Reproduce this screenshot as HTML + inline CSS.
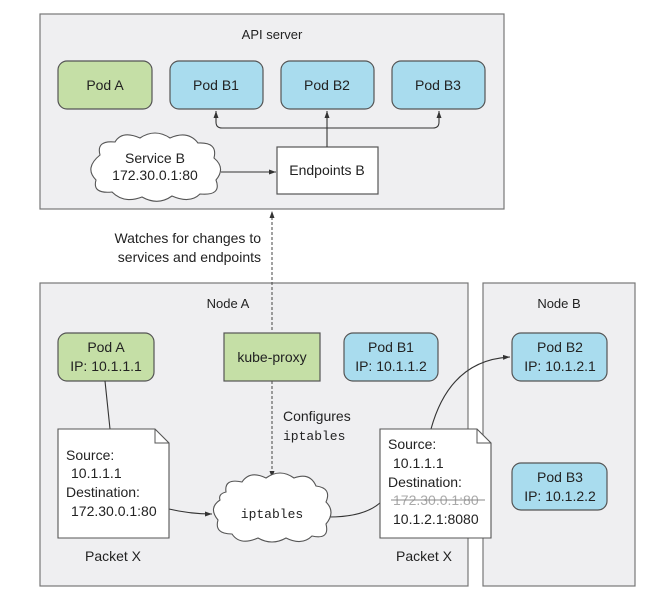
<!DOCTYPE html>
<html><head><style>
html,body{margin:0;padding:0;background:#fff;}
svg{display:block;font-family:"Liberation Sans",sans-serif;}
</style></head><body>
<svg width="659" height="604" viewBox="0 0 659 604" xmlns="http://www.w3.org/2000/svg">
<defs>
<marker id="ar" markerWidth="8" markerHeight="8" refX="7" refY="4" orient="auto" markerUnits="userSpaceOnUse">
<path d="M0,1.5 L7,4 L0,6.5 Z" fill="#333"/></marker>
</defs>
<g stroke="#777" stroke-width="1.2" fill="#efeff1">
<rect x="40" y="14" width="464" height="195"/>
<rect x="40" y="283" width="428" height="303"/>
<rect x="483" y="283" width="152" height="303"/>
</g>
<g font-size="13" fill="#222" text-anchor="middle">
<text x="272" y="39">API server</text>
<text x="228" y="308">Node A</text>
<text x="559" y="308">Node B</text>
</g>
<g stroke="#555" stroke-width="1.2">
<rect x="58" y="61" width="94" height="48" rx="9" fill="#c5dfa6"/>
<rect x="170" y="61" width="93" height="48" rx="9" fill="#a9dcee"/>
<rect x="281" y="61" width="93" height="48" rx="9" fill="#a9dcee"/>
<rect x="392" y="61" width="93" height="48" rx="9" fill="#a9dcee"/>
<rect x="277" y="147" width="101" height="47" fill="#fff"/>
</g>
<g font-size="14" fill="#222" text-anchor="middle">
<text x="105" y="90">Pod A</text>
<text x="216" y="90">Pod B1</text>
<text x="327" y="90">Pod B2</text>
<text x="438" y="90">Pod B3</text>
<text x="327" y="175">Endpoints B</text>
</g>
<g stroke="#333" stroke-width="1.1" fill="none">
<path d="M327,147 V111" marker-end="url(#ar)"/>
<path d="M222,128 H433 Q439,128 439,122 V111" marker-end="url(#ar)"/>
<path d="M222,128 Q216,128 216,122 V111" marker-end="url(#ar)"/>
<path d="M221,172 H276" marker-end="url(#ar)"/>
</g>
<path d="M100,155 Q96,140 115,142 Q122,130 140,138 Q155,128 170,138 Q188,130 198,143 Q218,142 214,158 Q226,168 216,180 Q222,196 200,194 Q190,204 172,196 Q158,206 142,197 Q124,204 112,192 Q92,194 96,180 Q84,168 100,155 Z" fill="#fff" stroke="#555" stroke-width="1.1"/>
<g font-size="14" fill="#222" text-anchor="middle">
<text x="155" y="163">Service B</text>
<text x="155" y="180">172.30.0.1:80</text>
</g>
<path d="M272,330 V211" stroke="#444" stroke-width="1" stroke-dasharray="3,2" fill="none" marker-end="url(#ar)"/>
<path d="M272,381 V478" stroke="#444" stroke-width="1" stroke-dasharray="3,2" fill="none" marker-end="url(#ar)"/>
<g font-size="14" fill="#222" text-anchor="end">
<text x="261" y="243">Watches for changes to</text>
<text x="261" y="262">services and endpoints</text>
</g>
<g stroke="#555" stroke-width="1.2">
<rect x="58" y="333" width="96" height="48" rx="9" fill="#c5dfa6"/>
<rect x="224" y="333" width="96" height="48" fill="#c5dfa6"/>
<rect x="344" y="333" width="94" height="48" rx="9" fill="#a9dcee"/>
<rect x="512" y="333" width="95" height="48" rx="9" fill="#a9dcee"/>
<rect x="512" y="463" width="95" height="47" rx="9" fill="#a9dcee"/>
</g>
<g font-size="14" fill="#222" text-anchor="middle">
<text x="106" y="352">Pod A</text><text x="106" y="371">IP: 10.1.1.1</text>
<text x="272" y="362">kube-proxy</text>
<text x="391" y="352">Pod B1</text><text x="391" y="371">IP: 10.1.1.2</text>
<text x="560" y="352">Pod B2</text><text x="560" y="371">IP: 10.1.2.1</text>
<text x="560" y="482">Pod B3</text><text x="560" y="501">IP: 10.1.2.2</text>
</g>
<text x="283" y="421" font-size="14" fill="#222">Configures</text>
<text x="283" y="440" font-size="13" fill="#222" font-family="Liberation Mono,monospace">iptables</text>
<path d="M105,381 L110,429" stroke="#333" stroke-width="1.1" fill="none"/>
<path d="M169,509 Q190,514 212,514" stroke="#333" stroke-width="1.1" fill="none" marker-end="url(#ar)"/>
<path d="M329,517 Q365,517 381,502" stroke="#333" stroke-width="1.1" fill="none"/>
<path d="M431,429 Q450,360 510,357" stroke="#333" stroke-width="1.1" fill="none" marker-end="url(#ar)"/>
<path d="M58,429 H155 L169,443 V538 H58 Z" fill="#fff" stroke="#555" stroke-width="1.1"/>
<path d="M155,429 V443 H169" fill="none" stroke="#555" stroke-width="1"/>
<path d="M380,429 H477 L491,443 V538 H380 Z" fill="#fff" stroke="#555" stroke-width="1.1"/>
<path d="M477,429 V443 H491" fill="none" stroke="#555" stroke-width="1"/>
<path d="M226,492 Q224,478 242,482 Q250,470 266,478 Q280,468 294,478 Q310,472 316,486 Q332,488 326,502 Q336,512 326,524 Q330,540 312,536 Q302,546 286,538 Q272,546 258,538 Q240,546 232,534 Q214,534 218,520 Q208,508 220,500 Q218,494 226,492 Z" fill="#fff" stroke="#555" stroke-width="1.1"/>
<text x="272" y="518" font-size="13" fill="#222" text-anchor="middle" font-family="Liberation Mono,monospace">iptables</text>
<g font-size="14" fill="#222">
<text x="66" y="460">Source:</text>
<text x="71" y="478">10.1.1.1</text>
<text x="66" y="497">Destination:</text>
<text x="71" y="516">172.30.0.1:80</text>
<text x="388" y="449">Source:</text>
<text x="393" y="468">10.1.1.1</text>
<text x="388" y="487">Destination:</text>
<text x="393" y="505" fill="#aaa">172.30.0.1:80</text>
<text x="393" y="524">10.1.2.1:8080</text>
</g>
<line x1="391" y1="500" x2="485" y2="500" stroke="#888" stroke-width="1"/>
<g font-size="14" fill="#222" text-anchor="middle">
<text x="113" y="561">Packet X</text>
<text x="424" y="561">Packet X</text>
</g>
</svg>
</body></html>
